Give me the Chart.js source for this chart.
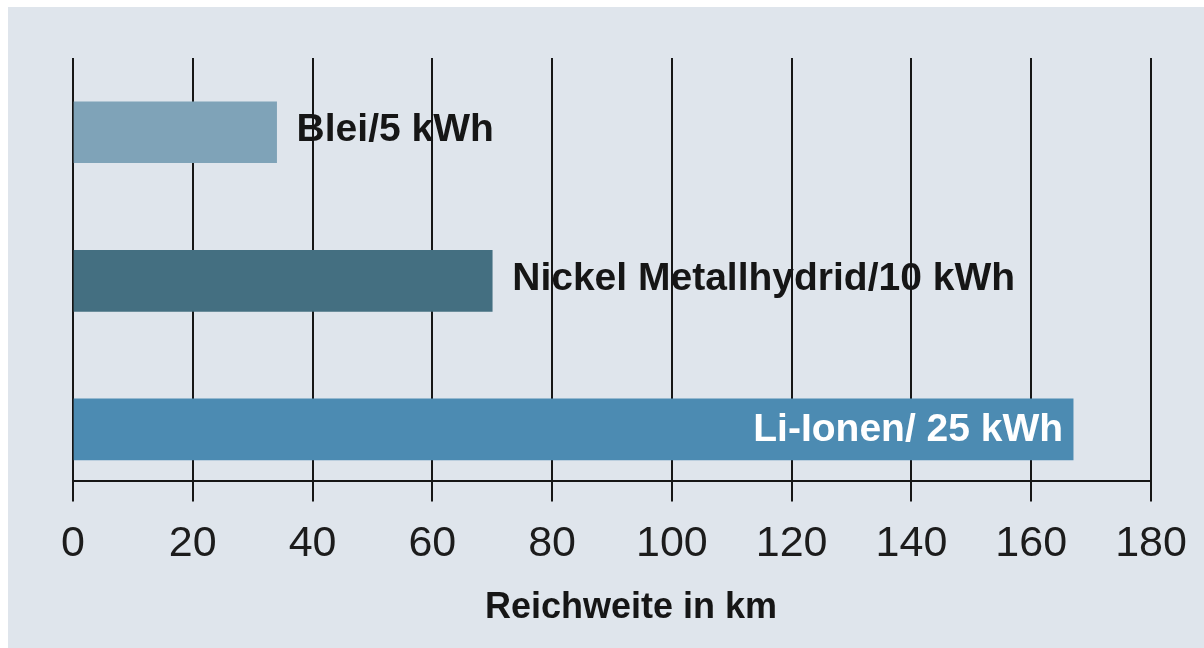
<!DOCTYPE html>
<html lang="de">
<head>
<meta charset="UTF-8">
<title>Reichweite nach Batterietyp</title>
<script src="https://cdn.jsdelivr.net/npm/chart.js"></script>
<style>
  body { margin: 0; background: #fff; }
  .panel { position: absolute; left: 8px; top: 7px; width: 1196px; height: 641px; background: #dfe5ec; }
</style>
</head>
<body>
<div class="panel"><canvas id="rangeChart" width="1196" height="641"></canvas></div>

<script>
  // Batterietypen mit Reichweite in km
  const batteries = ['Blei/5 kWh', 'Nickel Metallhydrid/10 kWh', 'Li-Ionen/ 25 kWh'];
  const rangeKm = [34, 70, 167];
  const barColors = ['#7fa3b8', '#446f81', '#4c8bb2'];
  const kmTicks = [0, 20, 40, 60, 80, 100, 120, 140, 160, 180];
  // Beschriftung im Balken (weiß) oder dahinter (schwarz)
  const labelInside = [false, false, true];
  const axisTitle = 'Reichweite in km';

  const ink = '#161616';

  // Balkenbeschriftungen und Achsentitel
  const barLabels = {
    id: 'barLabels',
    afterDatasetsDraw(chart) {
      const ctx = chart.ctx;
      const meta = chart.getDatasetMeta(0);
      ctx.save();
      ctx.font = 'bold 39px "Liberation Sans", Arial, sans-serif';
      ctx.textBaseline = 'middle';
      meta.data.forEach((bar, i) => {
        if (labelInside[i]) {
          ctx.fillStyle = '#ffffff';
          ctx.textAlign = 'right';
          ctx.fillText(batteries[i], bar.x - 10, bar.y + 1);
        } else {
          ctx.fillStyle = ink;
          ctx.textAlign = 'left';
          ctx.fillText(batteries[i], bar.x + 20, bar.y - 2);
        }
      });
      const xs = chart.scales.x;
      ctx.font = 'bold 36px "Liberation Sans", Arial, sans-serif';
      ctx.fillStyle = ink;
      ctx.textAlign = 'center';
      ctx.fillText(axisTitle, (xs.left + xs.right) / 2 + 19, xs.bottom + 21);
      ctx.restore();
    }
  };

  const ctx = document.getElementById('rangeChart').getContext('2d');
  const rangeChart = new Chart(ctx, {
    type: 'bar',
    data: {
      labels: batteries,
      datasets: [{
        data: rangeKm.map((v, i) => ({ x: v, y: i })),
        backgroundColor: barColors,
        borderWidth: 0,
        barThickness: 61
      }]
    },
    options: {
      indexAxis: 'y',
      responsive: false,
      animation: false,
      layout: { padding: { left: 65, right: 53, top: 51, bottom: 61 } },
      plugins: {
        legend: { display: false },
        tooltip: { enabled: false }
      },
      scales: {
        y: {
          type: 'linear',
          reverse: true,
          offset: false,
          min: -0.5,
          max: 2.35,
          display: false
        },
        x: {
          type: 'linear',
          min: 0,
          max: 180,
          afterBuildTicks: (scale) => { scale.ticks = kmTicks.map(v => ({ value: v })); },
          grid: { color: ink, lineWidth: 2, tickLength: 20, drawTicks: true },
          border: { display: true, color: ink, width: 2 },
          ticks: {
            padding: 17,
            color: '#1c1c1c',
            font: { family: '"Liberation Sans", Arial, sans-serif', size: 43 }
          }
        }
      }
    },
    plugins: [barLabels]
  });
</script>
</body>
</html>
